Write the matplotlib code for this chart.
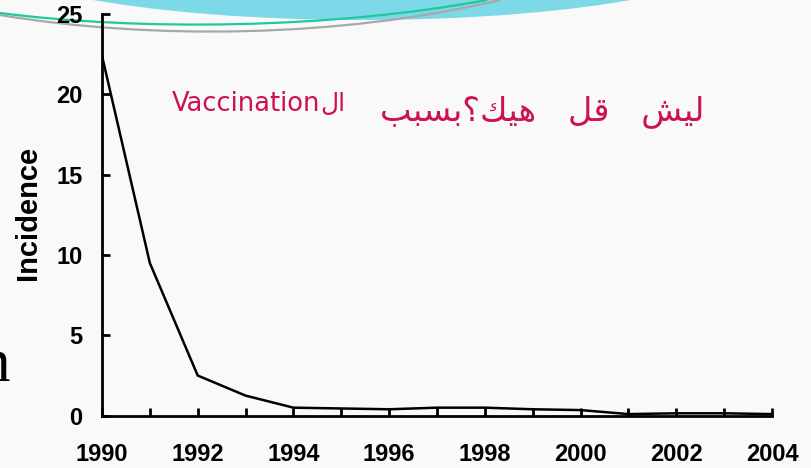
import matplotlib.pyplot as plt
from matplotlib.patches import Ellipse, PathPatch
from matplotlib.path import Path

years = list(range(1990, 2005))
incidence = [22.4, 9.5, 2.5, 1.25, 0.5, 0.45, 0.4, 0.5, 0.5, 0.4, 0.35, 0.1, 0.15, 0.15, 0.1]
year_labels = [str(y) if y % 2 == 0 else '' for y in years]
y_ticks = [0, 5, 10, 15, 20, 25]

note_latin = 'Vaccination'
# Arabic written with presentation forms in visual order: "ال" then "ليش قل هيك؟ بسبب"
note_al = '\ufedd\ufe8d'
note_arabic = '\ufe90\ufe92\ufeb4\ufe91\u061f\ufeda\ufef4\ufeeb   \ufede\ufed7   \ufeb6\ufef4\ufedf'
note_color = '#cc1156'

fig = plt.figure(figsize=(8.11, 4.68), dpi=100)
fig.patch.set_facecolor('#f9f9f9')

# slide decoration in pixel coords
bg = fig.add_axes([0, 0, 1, 1], zorder=0)
bg.set_xlim(0, 811)
bg.set_ylim(468, 0)
bg.axis('off')
bg.add_patch(Ellipse((362, -57), 800, 154, facecolor='#7dd8e8', edgecolor='none'))
bg.add_patch(Ellipse((440, -30), 220, 60, facecolor='#4fb8e0', edgecolor='none'))
green = Path([(0, 13), (140, 31), (330, 29), (487, 0)],
             [Path.MOVETO, Path.CURVE4, Path.CURVE4, Path.CURVE4])
gray = Path([(0, 15), (150, 40), (340, 38), (500, 0)],
            [Path.MOVETO, Path.CURVE4, Path.CURVE4, Path.CURVE4])
bg.add_patch(PathPatch(gray, facecolor='none', edgecolor='#a8a8a8', lw=1.6))
bg.add_patch(PathPatch(green, facecolor='none', edgecolor='#1fc9a0', lw=1.6))
bg.text(-20, 381, 'n', fontsize=44, family='Liberation Serif', color='black', va='baseline')

ax = fig.add_axes([102/811, 1 - 415.7/468, (772 - 102)/811, (415.7 - 14)/468], zorder=1)
ax.patch.set_alpha(0)
ax.plot(years, incidence, color='black', lw=1.8, solid_joinstyle='miter')
ax.set_xlim(1990, 2004)
ax.set_ylim(0, 25)
ax.set_xticks(years)
ax.set_xticklabels(year_labels)
ax.set_yticks(y_ticks)
for s in ['top', 'right']:
    ax.spines[s].set_visible(False)
for s in ['left', 'bottom']:
    ax.spines[s].set_linewidth(2)
ax.tick_params(axis='both', direction='in', width=2, length=6, labelsize=17)
ax.tick_params(axis='x', pad=20)
ax.tick_params(axis='y', pad=14)
for lab in ax.get_xticklabels() + ax.get_yticklabels():
    lab.set_fontweight('bold')
    lab.set_family('Liberation Sans')

fig.text(28/811, 1 - 213/468, 'Incidence', rotation=90, ha='center', va='center',
         fontsize=21, fontweight='bold', family='Liberation Sans')

bg.text(172, 104, note_latin, fontsize=18.5, color=note_color, family='DejaVu Sans', va='center')
bg.text(320, 104, note_al, fontsize=18, color=note_color, family='DejaVu Sans', va='center')
bg.text(380, 112, note_arabic, fontsize=24, color=note_color, family='DejaVu Sans', va='center')

fig.savefig('out.png', dpi=100, facecolor=fig.get_facecolor())
